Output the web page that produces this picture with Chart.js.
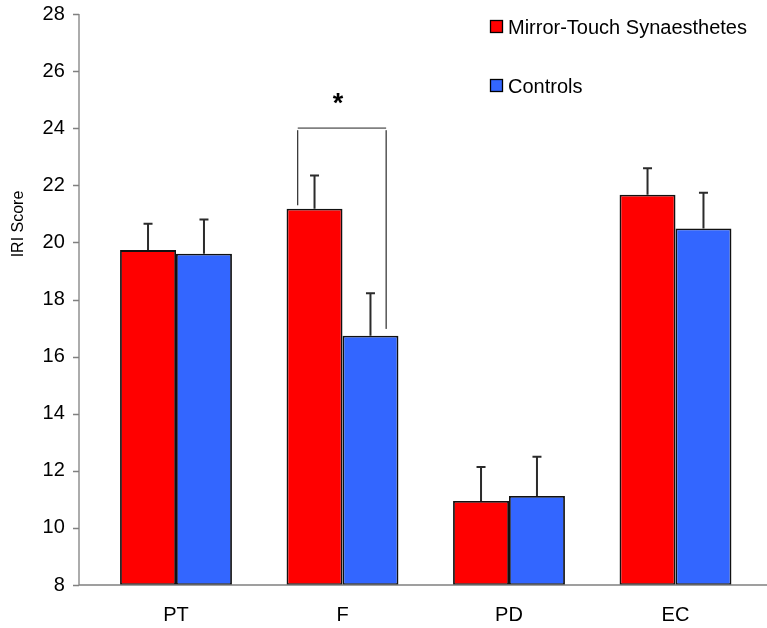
<!DOCTYPE html>
<html>
<head>
<meta charset="utf-8">
<script src="https://cdn.jsdelivr.net/npm/chart.js@4"></script>
<style>
  html, body { margin: 0; padding: 0; background: #fff; }
  #wrap { width: 767px; height: 628px; position: relative; }
</style>
</head>
<body>
<div id="wrap"><canvas id="iriChart"></canvas></div>
<script>
// IRI subscale scores, group means with SEM
const subscales = ["PT", "F", "PD", "EC"];
const mirrorTouch = [19.73, 21.18, 10.94, 21.67];
const mirrorTouchErr = [0.92, 1.16, 1.19, 0.93];
const controls = [19.60, 16.73, 11.12, 20.49];
const controlsErr = [1.20, 1.49, 1.37, 1.25];
const yMin = 8;
const yMax = 28;
const yStep = 2;
// significance bracket over F: top value, left/right drop ends
const sigTop = 24.0;
const sigEnds = [21.3, 16.97];
const sigIndex = 1;

const FONT = "'Liberation Sans', Arial, sans-serif";
Chart.defaults.font.family = FONT;
Chart.defaults.font.size = 20;
Chart.defaults.color = "#000";

const AXIS_X = 79;

const decorations = {
  id: "decorations",
  afterDatasetsDraw(chart) {
    const ctx = chart.ctx;
    const y = chart.scales.y;
    const yTop = y.getPixelForValue(yMax);
    const yBot = y.getPixelForValue(yMin);

    // axes
    ctx.save();
    ctx.strokeStyle = "#808080";
    ctx.lineWidth = 1.3;
    ctx.beginPath();
    ctx.moveTo(AXIS_X, yTop);
    ctx.lineTo(AXIS_X, yBot);
    ctx.moveTo(AXIS_X, yBot);
    ctx.lineTo(chart.width, yBot);
    for (let v = yMin; v <= yMax; v += yStep) {
      const py = Math.round(y.getPixelForValue(v)) + 0.5;
      ctx.moveTo(AXIS_X - 6, py);
      ctx.lineTo(AXIS_X, py);
    }
    ctx.stroke();
    ctx.restore();

    // error bars
    const errs = [mirrorTouchErr, controlsErr];
    chart.data.datasets.forEach((ds, di) => {
      const meta = chart.getDatasetMeta(di);
      meta.data.forEach((bar, i) => {
        const top = y.getPixelForValue(ds.data[i] + errs[di][i]);
        ctx.save();
        ctx.strokeStyle = "#2b2b2b";
        ctx.lineWidth = 2;
        ctx.beginPath();
        ctx.moveTo(bar.x, bar.y);
        ctx.lineTo(bar.x, top);
        ctx.moveTo(bar.x - 4.5, top);
        ctx.lineTo(bar.x + 4.5, top);
        ctx.stroke();
        ctx.restore();
      });
    });
  },
  afterDraw(chart) {
    const ctx = chart.ctx;
    const y = chart.scales.y;

    // significance bracket
    const b0 = chart.getDatasetMeta(0).data[sigIndex];
    const b1 = chart.getDatasetMeta(1).data[sigIndex];
    const xl = b0.x - b0.width * 0.3;
    const xr = b1.x + b1.width * 0.28;
    const yt = y.getPixelForValue(sigTop);
    ctx.save();
    ctx.strokeStyle = "#000";
    ctx.lineWidth = 1;
    ctx.beginPath();
    ctx.moveTo(xl, yt + 2);
    ctx.lineTo(xl, y.getPixelForValue(sigEnds[0]));
    ctx.moveTo(xr, yt + 2);
    ctx.lineTo(xr, y.getPixelForValue(sigEnds[1]));
    ctx.stroke();
    ctx.strokeStyle = "#808080";
    ctx.lineWidth = 1.8;
    ctx.beginPath();
    ctx.moveTo(xl, yt);
    ctx.lineTo(xr, yt);
    ctx.stroke();
    ctx.fillStyle = "#000";
    ctx.font = "bold 27px " + FONT;
    ctx.textAlign = "center";
    ctx.textBaseline = "alphabetic";
    ctx.fillText("*", (xl + xr) / 2 - 4, yt - 16);
    ctx.restore();

    // y axis title
    ctx.save();
    ctx.translate(18.5, 224);
    ctx.rotate(-Math.PI / 2);
    ctx.font = "16px " + FONT;
    ctx.fillStyle = "#000";
    ctx.textAlign = "center";
    ctx.textBaseline = "middle";
    ctx.fillText("IRI Score", 0, 0);
    ctx.restore();

    // legend
    ctx.save();
    ctx.font = "20px " + FONT;
    ctx.textAlign = "left";
    ctx.textBaseline = "alphabetic";
    const rows = [34, 93];
    chart.data.datasets.forEach((ds, di) => {
      const base = rows[di];
      ctx.fillStyle = ds.backgroundColor;
      ctx.fillRect(490.5, base - 13.5, 12, 12);
      ctx.strokeStyle = "#000";
      ctx.lineWidth = 1.3;
      ctx.strokeRect(490.5, base - 13.5, 12, 12);
      ctx.fillStyle = "#000";
      ctx.fillText(ds.label, 508, base);
    });
    ctx.restore();
  }
};

new Chart(document.getElementById("iriChart"), {
  type: "bar",
  data: {
    labels: subscales,
    datasets: [
      {
        label: "Mirror-Touch Synaesthetes",
        data: mirrorTouch,
        backgroundColor: "#FF0000",
        borderColor: "#111",
        borderWidth: 1.8,
        borderSkipped: false,
        base: yMin
      },
      {
        label: "Controls",
        data: controls,
        backgroundColor: "#3366FF",
        borderColor: "#111",
        borderWidth: 1.8,
        borderSkipped: false,
        base: yMin
      }
    ]
  },
  options: {
    responsive: true,
    maintainAspectRatio: false,
    devicePixelRatio: 1,
    animation: false,
    layout: { padding: { top: 14, right: 8.25, left: 0, bottom: 0 } },
    datasets: { bar: { categoryPercentage: 0.672, barPercentage: 1.0 } },
    plugins: {
      legend: { display: false },
      tooltip: { enabled: false }
    },
    scales: {
      x: {
        grid: { display: false, tickLength: 18 },
        border: { display: false },
        ticks: { padding: 0, color: "#000" },
        afterFit(scale) { scale.height = 43; }
      },
      y: {
        min: yMin,
        max: yMax,
        grid: { display: false, tickLength: 28 },
        border: { display: false },
        ticks: { stepSize: yStep, padding: 0, color: "#000" },
        afterFit(scale) { scale.width = 92.75; }
      }
    }
  },
  plugins: [decorations]
});
</script>
</body>
</html>
